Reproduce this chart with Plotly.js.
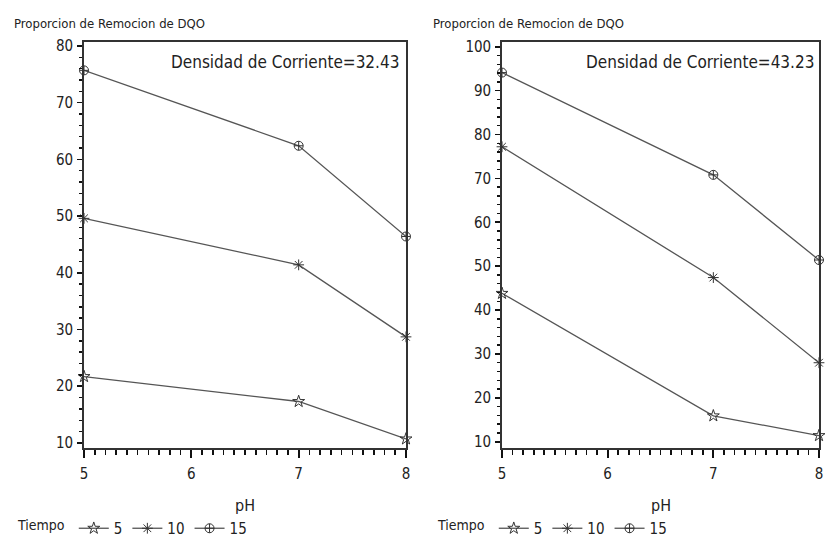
<!DOCTYPE html>
<html>
<head>
<meta charset="utf-8">
<script src="https://cdn.plot.ly/plotly-3.0.1.min.js"></script>
<style>html,body{margin:0;padding:0;background:#fff;}#chart{width:826px;height:545px;}</style>
</head>
<body>
<div id="chart"></div>
<script>
// ---- data ----
const pH = [5, 7, 8];
const tiempoLabels = ['5', '10', '15'];
// Densidad de Corriente = 32.43
const left_t5  = [21.7, 17.3, 10.7];
const left_t10 = [49.6, 41.4, 28.7];
const left_t15 = [75.7, 62.4, 46.4];
// Densidad de Corriente = 43.23
const right_t5  = [43.8, 15.9, 11.4];
const right_t10 = [77.2, 47.4, 28.0];
const right_t15 = [94.1, 70.8, 51.4];
const panelTitles = ['Densidad de Corriente=32.43', 'Densidad de Corriente=43.23'];
const yTitle = 'Proporcion de Remocion de DQO';
const xTitle = 'pH';
const legendTitle = 'Tiempo';

const FONT = '"DejaVu Sans Condensed", "Liberation Sans Narrow", sans-serif';
const INK = '#222';
const LINE = '#555';
const symbols = ['star-open', 'asterisk-open', 'circle-cross-open'];

function mk(y, i, xa, ya, leg) {
  return {
    x: pH, y: y, name: tiempoLabels[i], type: 'scatter', mode: 'lines+markers',
    xaxis: xa, yaxis: ya, legend: leg, cliponaxis: false,
    line: {color: LINE, width: 1.3},
    marker: {symbol: symbols[i], size: 9, color: '#333', line: {color: '#333', width: 1}}
  };
}
const leftSeries = [left_t5, left_t10, left_t15];
const rightSeries = [right_t5, right_t10, right_t15];
const data = [];
leftSeries.forEach((s, i) => data.push(mk(s, i, 'x', 'y', 'legend')));
rightSeries.forEach((s, i) => data.push(mk(s, i, 'x2', 'y2', 'legend2')));

const W = 826, H = 545;
const yDom = [1 - 448 / H, 1 - 42 / H];
function xax(dom) {
  return {
    domain: dom, range: [5, 8], tickmode: 'linear', tick0: 5, dtick: 1,
    ticks: 'outside', ticklen: 8, tickwidth: 1.8, ticklabelstandoff: 3,
    ticklabeloverflow: 'allow',
    tickcolor: '#111', showline: true, mirror: true, linecolor: '#333', linewidth: 1.8,
    showgrid: false, zeroline: false, tickfont: {family: FONT, size: 15, color: INK},
    minor: {tickmode: 'linear', tick0: 5, dtick: 0.1, ticks: 'outside', ticklen: 5, tickcolor: '#111', tickwidth: 1.6, showgrid: false},
    fixedrange: true
  };
}
function yax(range, anchor) {
  return {
    domain: yDom, range: range, tickmode: 'linear', tick0: 0, dtick: 10,
    ticks: 'outside', ticklen: 5, tickwidth: 1.6, ticklabelstandoff: 1,
    tickcolor: '#111', showline: true, mirror: true, linecolor: '#333', linewidth: 1.8,
    showgrid: false, zeroline: false, tickfont: {family: FONT, size: 15, color: INK},
    minor: {tickmode: 'linear', tick0: 0, dtick: 2, ticks: 'outside', ticklen: 3, tickcolor: '#111', tickwidth: 1.4, showgrid: false},
    anchor: anchor, fixedrange: true
  };
}
function legendCfg(xpx) {
  return {
    orientation: 'h', x: xpx / W, xanchor: 'left', y: 0, yanchor: 'bottom',
    title: {text: legendTitle, side: 'left', font: {family: FONT, size: 14, color: INK}},
    font: {family: FONT, size: 15, color: INK}, bgcolor: 'rgba(0,0,0,0)', itemwidth: 30,
    tracegroupgap: 0
  };
}
const layout = {
  width: W, height: H, margin: {l: 0, r: 0, t: 0, b: 0},
  paper_bgcolor: '#fff', plot_bgcolor: '#fff', showlegend: true,
  xaxis: Object.assign(xax([84 / W, 406 / W]), {anchor: 'y'}),
  yaxis: yax([9.1, 80.7], 'x'),
  xaxis2: Object.assign(xax([502 / W, 819 / W]), {anchor: 'y2'}),
  yaxis2: yax([8.57, 101.07], 'x2'),
  legend: legendCfg(16),
  legend2: legendCfg(436),
  annotations: [
    {text: yTitle, xref: 'paper', yref: 'paper', x: 12 / W, y: 1 - 23 / H, xanchor: 'left', yanchor: 'middle', showarrow: false, font: {family: FONT, size: 13, color: INK}},
    {text: yTitle, xref: 'paper', yref: 'paper', x: 431 / W, y: 1 - 23 / H, xanchor: 'left', yanchor: 'middle', showarrow: false, font: {family: FONT, size: 13, color: INK}},
    {text: panelTitles[0], xref: 'paper', yref: 'paper', x: 401 / W, y: 1 - 62 / H, xanchor: 'right', yanchor: 'middle', showarrow: false, font: {family: FONT, size: 17, color: INK}},
    {text: panelTitles[1], xref: 'paper', yref: 'paper', x: 816 / W, y: 1 - 62 / H, xanchor: 'right', yanchor: 'middle', showarrow: false, font: {family: FONT, size: 17, color: INK}},
    {text: xTitle, xref: 'paper', yref: 'paper', x: 245 / W, y: 1 - 505 / H, xanchor: 'center', yanchor: 'middle', showarrow: false, font: {family: FONT, size: 16, color: INK}},
    {text: xTitle, xref: 'paper', yref: 'paper', x: 661 / W, y: 1 - 505 / H, xanchor: 'center', yanchor: 'middle', showarrow: false, font: {family: FONT, size: 16, color: INK}}
  ]
};
Plotly.newPlot('chart', data, layout, {displayModeBar: false, staticPlot: true});
</script>
</body>
</html>
